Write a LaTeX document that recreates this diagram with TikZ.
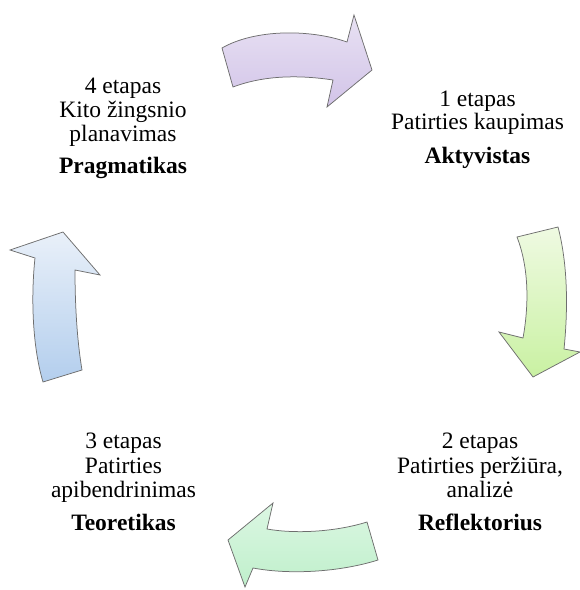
\documentclass[tikz,border=0pt]{standalone}
\usepackage{fontspec}
\setmainfont{Liberation Serif}
\definecolor{edgegray}{HTML}{6E6E6E}
\definecolor{purpleA}{HTML}{E8E1F3}
\definecolor{purpleB}{HTML}{D2C4E8}
\definecolor{greenA}{HTML}{EFFAE2}
\definecolor{greenB}{HTML}{C9F1A2}
\definecolor{mintA}{HTML}{DCF7E3}
\definecolor{mintB}{HTML}{BFEFCB}
\definecolor{blueA}{HTML}{E9F0F9}
\definecolor{blueB}{HTML}{B3CEED}
\begin{document}
\begin{tikzpicture}[x=1bp,y=-1bp,
  cyclearrow/.style={draw=edgegray, line width=0.75bp, line join=miter},
  stagetext/.style={anchor=base, inner sep=0pt, font=\fontsize{23.5bp}{27bp}\selectfont},
  stagebold/.style={stagetext, font=\fontsize{23.5bp}{27bp}\selectfont\bfseries}]
\useasboundingbox (0,0) rectangle (580,590);

% top arrow (4 -> 1)
\path[cyclearrow, top color=purpleA, bottom color=purpleB]
  (222,48) .. controls (255,29) and (310,29) .. (347,42)
  -- (354,15) -- (372,70) -- (327,107) -- (333,80)
  .. controls (300,75) and (265,75) .. (233,87) -- cycle;

% right arrow (1 -> 2)
\path[cyclearrow, top color=greenA, bottom color=greenB]
  (517,237) -- (558,227) .. controls (568,265) and (568,310) .. (564,349)
  -- (580,352) -- (533,377) -- (499,332) -- (523,338)
  .. controls (529,305) and (529,268) .. (517,237) -- cycle;

% bottom arrow (2 -> 3)
\path[cyclearrow, top color=mintA, bottom color=mintB]
  (367,522) .. controls (335,532) and (295,534) .. (267,529)
  -- (273,503) -- (228,540) -- (245,587) -- (253,568)
  .. controls (290,575) and (340,572) .. (378,560) -- cycle;

% left arrow (3 -> 4)
\path[cyclearrow, top color=blueA, bottom color=blueB]
  (43,382) .. controls (32,345) and (31,295) .. (35,258)
  -- (10,250) -- (63,232) -- (100,275) -- (75,270)
  .. controls (75,305) and (77,340) .. (82,370) -- cycle;

% stage 1
\node[stagetext] (s1a) at (477.5,106.7) {1 etapas};
\node[stagetext] (s1b) at (477.5,130) {Patirties kaupimas};
\node[stagebold] (s1c) at (477.5,163.3) {Aktyvistas};

% stage 2
\node[stagetext] (s2a) at (480,448) {2 etapas};
\node[stagetext] (s2b) at (480,473) {Patirties peržiūra,};
\node[stagetext] (s2c) at (480,497) {analizė};
\node[stagebold] (s2d) at (480,530) {Reflektorius};

% stage 3
\node[stagetext] (s3a) at (123.5,448) {3 etapas};
\node[stagetext] (s3b) at (123.5,473) {Patirties};
\node[stagetext] (s3c) at (123.5,497) {apibendrinimas};
\node[stagebold] (s3d) at (123.5,530) {Teoretikas};

% stage 4
\node[stagetext] (s4a) at (123,93.3) {4 etapas};
\node[stagetext] (s4b) at (123,117.5) {Kito žingsnio};
\node[stagetext] (s4c) at (123,141.5) {planavimas};
\node[stagebold] (s4d) at (123,173.3) {Pragmatikas};
\end{tikzpicture}
\end{document}
